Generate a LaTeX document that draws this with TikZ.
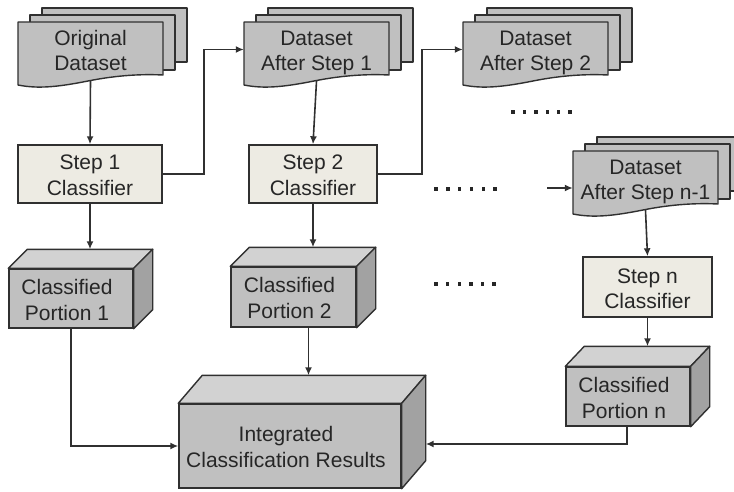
\documentclass[tikz,border=0pt]{standalone}
\usepackage{fontspec}
\setmainfont{Liberation Sans}
\usetikzlibrary{arrows.meta,calc}

\definecolor{inkc}{HTML}{303030}
\definecolor{sheetfill}{HTML}{C0C0C0}
\definecolor{stepfill}{HTML}{EDEBE3}
\definecolor{topfill}{HTML}{D2D2D2}
\definecolor{sidefill}{HTML}{A2A2A2}
\definecolor{txtc}{HTML}{262626}

% two-line label with a fixed height above and no depth below
\newcommand\lbl[2]{\rule{0pt}{17.5pt}#1\\\raisebox{0pt}[\height][0pt]{#2}}

\tikzset{
  sheet/.style={draw=inkc, fill=sheetfill, line width=1.4pt, line join=round},
  doctext/.style={inner sep=0pt, minimum width=145pt, minimum height=63pt,
    align=center, text=txtc, font=\fontsize{21}{25}\selectfont},
  stepbox/.style={draw=inkc, fill=stepfill, line width=1.4pt, inner sep=0pt,
    align=center, text=txtc, font=\fontsize{21}{25.5}\selectfont},
  cubefront/.style={draw=inkc, fill=sheetfill, line width=1.4pt, inner sep=0pt},
  cubetop/.style={draw=inkc, fill=topfill, line width=1.4pt, line join=round},
  cubeside/.style={draw=inkc, fill=sidefill, line width=1.4pt, line join=round},
  cubetext/.style={inner sep=0pt, align=center, text=txtc,
    font=\fontsize{21}{26}\selectfont},
  arr/.style={draw=inkc, line width=1.6pt, -{Latex[length=8pt,width=7pt]}},
  dotmark/.style={fill=black!85, draw=none},
}

% stack of three sheets; #1 name, #2 left, #3 top, #4 text
\newcommand\docstack[4]{%
  \begin{scope}[shift={(#2,#3)}]
    \draw[sheet] (24,-14) rectangle (169,40);
    \draw[sheet] (12,-7) rectangle (157,48);
    \draw[sheet] (0,0) -- (145,0) -- (145,53)
      .. controls (125,52) and (100,53) .. (70,59)
      .. controls (40,65) and (20,67) .. (0,63) -- cycle;
    \node[doctext] (#1) at (72.5,27.5) {#4};
  \end{scope}}

% box with a top and a side face; #1 name, #2 #3 centre of front,
% #4 width, #5 height, #6 depth x, #7 depth y, #8 text
\newcommand\cubenode[8]{%
  \node[cubefront, minimum width=#4pt, minimum height=#5pt] (#1) at (#2,#3) {};
  \draw[cubetop] (#1.north west) -- ++(#6,-#7) -- ($(#1.north east)+(#6pt,#7pt)$)
    -- (#1.north east) -- cycle;
  \draw[cubeside] (#1.north east) -- ++(#6,-#7) -- ($(#1.south east)+(#6pt,#7pt)$)
    -- (#1.south east) -- cycle;
  \coordinate (#1-top) at ($(#1.north)+(#6pt,#7pt)$);
  \node[cubetext] (#1-t) at ([xshift=-4pt]#1.center) {#8};}

\begin{document}
\begin{tikzpicture}[x=1pt,y=-1pt]
  \useasboundingbox (0,0) rectangle (734,492);
  \clip (0,0) rectangle (734,492);

  % datasets
  \docstack{d0}{18}{22}{\lbl{Original}{Dataset}}
  \docstack{d1}{244}{22}{\lbl{Dataset}{After Step 1}}
  \docstack{d2}{463}{22}{\lbl{Dataset}{After Step 2}}
  \docstack{dn}{573}{151}{\lbl{Dataset}{After Step n-1}}

  % classifiers
  \node[stepbox, minimum width=144pt, minimum height=58pt] (s1) at (90,174) {\lbl{Step 1}{Classifier}};
  \node[stepbox, minimum width=128pt, minimum height=58pt] (s2) at (313,174) {\lbl{Step 2}{Classifier}};
  \node[stepbox, minimum width=129pt, minimum height=60pt] (sn) at (647.5,287) {\lbl{Step n}{Classifier}};

  % classified portions and the integrated result
  \cubenode{c1}{71}{298.5}{124}{59}{19}{19}{\lbl{Classified}{Portion 1}}
  \cubenode{c2}{293.5}{297}{125}{60}{19}{19}{\lbl{Classified}{Portion 2}}
  \cubenode{cn}{628}{396.5}{124}{59}{19}{20}{\lbl{Classified}{Portion n}}
  \cubenode{ci}{290}{446}{222}{84}{24}{28}{\lbl{Integrated}{Classification Results}}

  % connectors
  \draw[arr] (d0.south) -- (s1.north);
  \draw[arr] (s1.east) -- ++(41,0) |- (d1.west);
  \draw[arr] (d1.south) -- (s2.north);
  \draw[arr] (s2.east) -- ++(44,0) |- (d2.west);
  \coordinate (nin) at (547,188);
  \draw[arr] (nin) -- (nin -| dn.west);
  \draw[arr] (dn.south) -- (sn.north);

  \draw[arr] (s1.south) -- (s1.south |- c1-top);
  \draw[arr] (s2.south) -- (s2.south |- c2-top);
  \draw[arr] (sn.south) -- (sn.south |- cn-top);

  \draw[arr] (c1.south) |- (ci.west);
  \draw[arr] ([xshift=15pt]c2.south) -- ([xshift=15pt]c2.south |- ci-top);
  \draw[arr] ([xshift=-1pt]cn.south) |- ([xshift=24pt,yshift=2pt]ci.east);

  % ellipses
  \foreach \i in {0,...,5} {
    \fill[dotmark] (436+11.8*\i-1.7,189-1.7) rectangle ++(3.4,3.4);
    \fill[dotmark] (436+11.6*\i-1.7,284-1.7) rectangle ++(3.4,3.4);
    \fill[dotmark] (513+11.4*\i-1.7,112-1.7) rectangle ++(3.4,3.4);
  }
\end{tikzpicture}
\end{document}
